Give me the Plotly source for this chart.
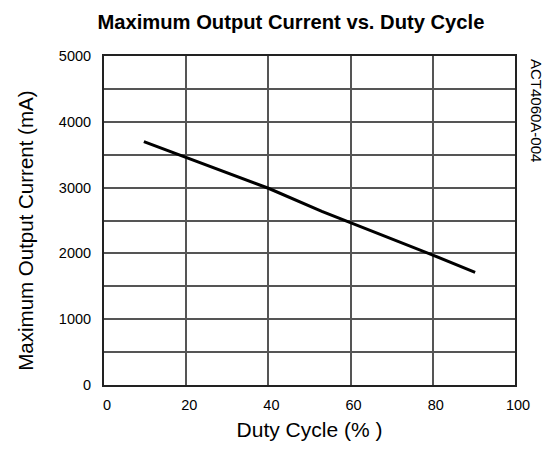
import plotly.graph_objects as go

duty = [9.7, 20, 40, 53, 60, 80, 90.3]
current = [3700, 3460, 2990, 2640, 2470, 1975, 1710]
x_ticks = [0, 20, 40, 60, 80, 100]
y_ticks = [0, 1000, 2000, 3000, 4000, 5000]
y_minor = [500, 1500, 2500, 3500, 4500]

font = "Liberation Sans, Arial, sans-serif"

fig = go.Figure()
fig.add_trace(go.Scatter(x=duty, y=current, mode="lines",
                         line=dict(color="black", width=3), showlegend=False))

fig.update_layout(
    width=542, height=447,
    margin=dict(l=95.5, r=35, t=48, b=70),
    paper_bgcolor="white", plot_bgcolor="white",
    font=dict(family=font, color="black", size=14.5),
    title=dict(text="<b>Maximum Output Current vs. Duty Cycle</b>",
               x=0.522, xanchor="center", y=0.969, yanchor="middle",
               font=dict(size=20.2, family=font)),
)
fig.update_xaxes(range=[0, 100], tickvals=x_ticks, ticks="", showgrid=True,
                 gridcolor="#555", gridwidth=1.6, zeroline=False,
                 showline=True, linecolor="#222", linewidth=2, mirror=True,
                 title=dict(text="Duty Cycle (% )", font=dict(size=21), standoff=10),
                 tickfont=dict(size=14.5), ticklabelstandoff=6, ticklabelshift=3)
fig.update_yaxes(range=[0, 5000], tickvals=y_ticks, ticks="",
                 showgrid=True, gridcolor="#555", gridwidth=1.6, zeroline=False,
                 showline=True, linecolor="#222", linewidth=2, mirror=True,
                 tickfont=dict(size=14.5), ticklabelstandoff=8,
                 minor=dict(tickvals=y_minor, showgrid=True, gridcolor="#555", gridwidth=1.6))
fig.add_annotation(text="Maximum Output Current (mA)", textangle=-90, xref="paper", yref="paper",
                   x=0, y=0.51, xanchor="center", yanchor="middle", xshift=-78.5, yshift=-14,
                   showarrow=False, font=dict(size=20.5, family=font))
fig.add_annotation(text="ACT4060A-004", textangle=90, xref="paper", yref="paper",
                   x=1.0, y=1.0, xanchor="left", yanchor="top", xshift=11, yshift=-1,
                   showarrow=False, font=dict(size=15, family=font))

fig.write_html("out.html")
